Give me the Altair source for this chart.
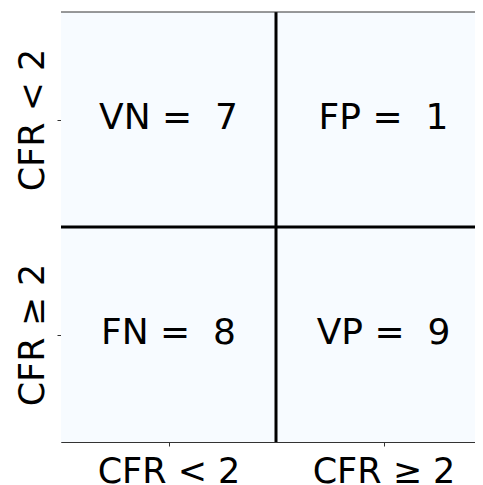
import altair as alt
import pandas as pd

# categories (row = actual, column = predicted)
categories = ["CFR < 2", "CFR ≥ 2"]
cell_names = ["VN", "FP", "FN", "VP"]
cell_values = [7, 1, 8, 9]
cell_rows = [0, 0, 1, 1]
cell_cols = [0, 1, 0, 1]

cells = pd.DataFrame({
    "x": cell_cols,
    "x2": [c + 1 for c in cell_cols],
    "y": cell_rows,
    "y2": [r + 1 for r in cell_rows],
    "xc": [c + 0.5 for c in cell_cols],
    "yc": [r + 0.5 for r in cell_rows],
    "label": [f"{n} = \u00a0{v}" for n, v in zip(cell_names, cell_values)],
})

divider = pd.DataFrame({"v": [1]})
top_edge = pd.DataFrame({"v": [0]})

W, H = 414, 430
xmax = W / 215.0

label_expr = f"datum.value < 1 ? '{categories[0]}' : '{categories[1]}'"

xscale = alt.Scale(domain=[0, xmax], nice=False, zero=False)
yscale = alt.Scale(domain=[0, 2], reverse=True, nice=False, zero=False)

xaxis = alt.Axis(values=[0.5, 1.5], labelExpr=label_expr, title=None, grid=False,
                 labelFontSize=35, labelFont="DejaVu Sans", labelColor="black",
                 labelBaseline="alphabetic", labelPadding=36, labelAngle=0,
                 labelOverlap=False, labelFlush=False,
                 tickSize=4, tickColor="#333333", domainColor="#333333", domainWidth=1)
yaxis = alt.Axis(values=[0.5, 1.5], labelExpr=label_expr, title=None, grid=False,
                 labelFontSize=35, labelFont="DejaVu Sans", labelColor="black",
                 labelAngle=-90, labelAlign="center", labelBaseline="alphabetic",
                 labelPadding=14, labelOverlap=False, labelFlush=False,
                 tickSize=4, tickColor="#333333", domainColor="#333333", domainWidth=1)

rects = alt.Chart(cells).mark_rect(clip=True, color="#f7fbff", strokeWidth=0).encode(
    x=alt.X("x:Q", scale=xscale, axis=xaxis),
    x2="x2:Q",
    y=alt.Y("y:Q", scale=yscale, axis=yaxis),
    y2="y2:Q",
)

texts = alt.Chart(cells).mark_text(fontSize=36, font="DejaVu Sans", color="black",
                                   align="center", baseline="middle", dy=-2).encode(
    x=alt.X("xc:Q", scale=xscale, axis=xaxis),
    y=alt.Y("yc:Q", scale=yscale, axis=yaxis),
    text="label:N",
)

vline = alt.Chart(divider).mark_rule(color="black", strokeWidth=3).encode(
    x=alt.X("v:Q", scale=xscale, axis=xaxis))
hline = alt.Chart(divider).mark_rule(color="black", strokeWidth=3).encode(
    y=alt.Y("v:Q", scale=yscale, axis=yaxis))
topline = alt.Chart(top_edge).mark_rule(color="#333333", strokeWidth=1).encode(
    y=alt.Y("v:Q", scale=yscale, axis=yaxis))

chart = alt.layer(rects, texts, vline, hline, topline).properties(
    width=W, height=H,
    autosize=alt.AutoSizeParams(type="none"),
    padding={"left": 53, "top": 4, "right": 0, "bottom": 43},
    background="white",
).configure_view(strokeWidth=0)

chart.save("out.html", embed_options={"renderer": "svg", "actions": False})
